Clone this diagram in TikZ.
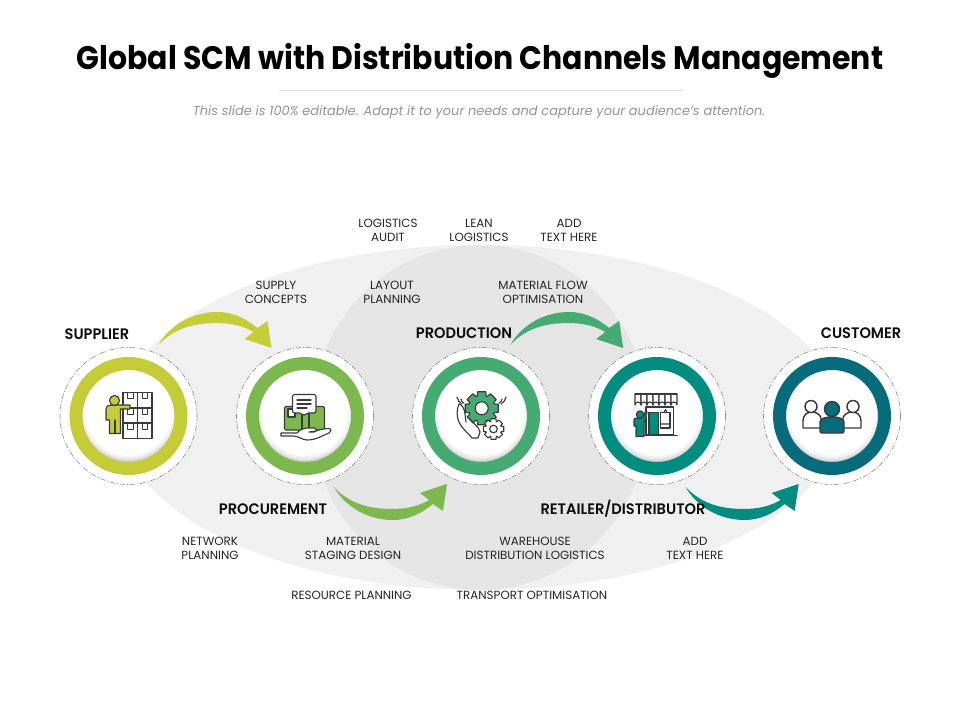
\documentclass[tikz,border=0pt]{standalone}
\usepackage{fontspec}
\setmainfont{Poppins}
\newfontfamily\ttl{Poppins}[FakeStretch=0.92]
\newfontfamily\lab{Poppins}
\newfontfamily\hd{Poppins SemiBold}[FakeStretch=0.96]
\definecolor{cA}{HTML}{C5CC38}
\definecolor{cB}{HTML}{7DB84E}
\definecolor{cC}{HTML}{45AB72}
\definecolor{cD}{HTML}{008C7E}
\definecolor{cE}{HTML}{066C7C}
\definecolor{ink}{HTML}{3A3A3A}
\tikzset{
  x=0.75pt,y=-0.75pt,
  small label/.style={font=\lab\fontsize{8.9pt}{10.5pt}\selectfont,align=center,text=black!85,inner sep=0,execute at begin node=\strut,execute at end node=\strut,yshift=-2pt},
  head label/.style={font=\hd\fontsize{11.4pt}{13pt}\selectfont,text=black!95,inner sep=0},
  base disc/.style={circle,minimum size=137*0.75pt,inner sep=0,fill=white,draw=black!45,line width=.45pt,dash pattern=on 4pt off 1.4pt on .8pt off 1.4pt},
  icon/.style={draw=ink,line width=.85pt,line join=round,line cap=round},
}
% ring, shadow
\newcommand{\ringat}[2]{%
  \begin{scope}[shift={(#1)}]
    \begin{scope}
      \clip (0,0) circle[radius=47];
      \fill[black!24] (0,0) circle[radius=47];
      \foreach \r/\g in {50/22,49.5/19,49/16,48.5/14,48/12,47.5/10,47/8,46.5/7,46/6,45.5/5,45/4,44.5/3,44/2,43.5/1,43/0}{
        \fill[white!\the\numexpr100-\g\relax!black] (0,-4) circle[radius=\r];
      }
    \end{scope}
    \draw[#2,line width=13*0.75pt] (0,0) circle[radius=52.5];
  \end{scope}}
\newcommand{\arrowshape}{(30,-71) .. controls (42,-92) and (65,-104) .. (89,-104) .. controls (105,-104) and (118,-97) .. (129,-88) -- (139,-95) -- (143,-68) -- (116,-77) -- (125,-84) .. controls (115,-90) and (103,-93) .. (88,-93) .. controls (62,-93) and (44,-86) .. cycle}
\newcommand{\gearshape}[2]{(-14:#1) \foreach \a in {0,45,...,315}{ -- (\a-14:#1) -- (\a+14:#1) -- (\a+20:#2) -- (\a+25:#2) } -- cycle}
\begin{document}
\begin{tikzpicture}
\useasboundingbox (0,0) rectangle (960,720);
\fill[white] (0,0) rectangle (960,720);
% background ellipses
\fill[black!6] (480,417.5) ellipse[x radius=360,y radius=172.5];
\fill[black!10] (480,417.5) ellipse[x radius=168,y radius=172.5];
% title
\node[inner sep=0,font=\ttl\bfseries\fontsize{24.4pt}{28pt}\selectfont] (title) at (480,60.5) {Global SCM with Distribution Channels Management};
\coordinate (ruleL) at (279,90);
\coordinate (ruleR) at (683,90);
\draw[black!15,line width=.6pt] (ruleL) -- (ruleR);
\node[inner sep=0,text=black!42,font=\fontsize{9.7pt}{11pt}\itshape\selectfont] (sub) at (479,112) {This slide is 100\% editable. Adapt it to your needs and capture your audience's attention.};
% discs
\node[base disc] (n1) at (128.5,416) {};
\node[base disc] (n2) at (305,416) {};
\node[base disc] (n3) at (481,416) {};
\node[base disc] (n4) at (657,416) {};
\node[base disc] (n5) at (832,416) {};
\ringat{n1}{cA}\ringat{n2}{cB}\ringat{n3}{cC}\ringat{n4}{cD}\ringat{n5}{cE}
% flow arrows
\fill[cA,shift={(n1)}] \arrowshape;
\fill[cC,shift={(n3)},xshift=-.6pt] \arrowshape;
\fill[cB,shift={(n1)},xshift=131.6pt,yscale=-1] \arrowshape;
\fill[cD,shift={(n3)},xshift=131pt,yscale=-1] \arrowshape;
% icon 1: shelves + person
\begin{scope}[shift={(n1)}]
  \draw[icon,fill=white] (-5.5,-23.5) rectangle (23.5,22.5);
  \draw[icon] (9,-23.5) -- (9,22.5) (-5.5,-8) -- (23.5,-8) (-5.5,7) -- (23.5,7);
  \foreach \x in {-1,13.5}\foreach \y in {-23.5,-8,7}{
    \draw[icon,line width=.6pt] (\x,\y) -- (\x,\y+6) -- (\x+5.5,\y+6) -- (\x+5.5,\y);
  }
  \draw[icon,fill=cA] (-22.5,-6) .. controls (-22.5,-10) and (-20,-11) .. (-17,-11) -- (-8,-11) -- (1.5,-11) -- (1.5,-7) -- (-8,-7) -- (-8,17.5) -- (-19,17.5) -- (-19,4) -- (-22.5,4) -- cycle;
  \draw[icon] (-13.5,4) -- (-13.5,17.5);
  \draw[icon,fill=cA] (-14,-15.5) circle[radius=5];
\end{scope}
% icon 2: parcel in hand
\begin{scope}[shift={(n2)}]
  \draw[icon,fill=cB,rounded corners=1pt] (-20.5,-9.5) rectangle (19.5,14);
  \draw[icon] (-3,-9.5) -- (-3,14) (4,-4) -- (4,14);
  \draw[icon,fill=white] (-17,-7) rectangle (-10,1);
  \draw[icon,fill=white,rounded corners=1.5pt] (-12.5,-21.5) -- (11,-21.5) -- (11,-3) -- (1.5,-3) -- (-1,0) -- (-3.5,-3) -- (-12.5,-3) -- cycle;
  \draw[icon,line width=1pt] (-8,-16) -- (6,-16) (-8,-12) -- (6,-12) (-8,-8) -- (2,-8);
  \draw[icon,fill=white] (-8,17) .. controls (-3,11) and (3,12) .. (9,12) .. controls (12,12) and (12,16) .. (9,16) -- (4,16) .. controls (10,16) and (18,12) .. (24,12.5) .. controls (27,13) and (26,16) .. (24,17) .. controls (18,19) and (12,24) .. (2,24) .. controls (-3,24) and (-6,20) .. (-12,20) -- (-24,20) -- (-24,17) -- cycle;
\end{scope}
% icon 3: gears and hand
\begin{scope}[shift={(n3)}]
  \begin{scope}[shift={(0.7,-7.7)}]
    \draw[icon,fill=cC] \gearshape{17}{13};
    \draw[icon,fill=white] (0,0) circle[radius=6.5];
  \end{scope}
  \begin{scope}[shift={(12.5,13)}]
    \draw[icon,fill=white] \gearshape{10.5}{8};
    \draw[icon] (0,0) circle[radius=3.8];
  \end{scope}
  \draw[icon] (-22,-12) .. controls (-25,-6) and (-24,2) .. (-22,6) .. controls (-18,14) and (-12,18) .. (-9,22) -- (-3,22) -- (-1,16) .. controls (-2,10) and (-8,8) .. (-12,2);
  \draw[icon] (-22,-12) .. controls (-19,-12) and (-16,-6) .. (-16,-2) -- (-15,6);
  \draw[icon] (-24,-19) arc[start angle=170,end angle=120,radius=10];
  \draw[icon] (-20,-17) arc[start angle=170,end angle=120,radius=6];
  \draw[icon] (25,-19) arc[start angle=10,end angle=60,radius=10];
  \draw[icon] (21,-17) arc[start angle=10,end angle=60,radius=6];
\end{scope}
% icon 4: shop
\begin{scope}[shift={(n4)}]
  \draw[icon,fill=white] (-11,-9) rectangle (16.5,19);
  \foreach \i in {0,...,6}{
    \draw[icon,fill=white] ({-22+6*\i},-22) -- ({-22+6*\i},-11) arc[start angle=180,end angle=360,radius=3] -- ({-16+6*\i},-22);
  }
  \draw[icon] (-22,-22) -- (20,-22);
  \draw[icon,fill=cD] (-8,-3.7) rectangle (1.3,19);
  \draw[icon,fill=white] (3.7,-3.7) rectangle (13,12);
  \draw[icon] (3.7,8) -- (13,8) (7,-3.7) -- (8.5,-6.5) -- (10,-3.7);
  \draw[icon,line width=1.4pt] (-12,19.5) -- (20,19.5);
  \draw[icon,fill=cD] (-23,4) .. controls (-23,2.5) and (-22,2) .. (-20,2) -- (-15,2) -- (-13,-1) -- (-11.5,-5) -- (-10,-4) -- (-11,2) -- (-13,7) -- (-13,20.5) -- (-21,20.5) -- (-21,10) -- (-23,10) -- cycle;
  \draw[icon,fill=cD] (-17,-1.5) circle[radius=3.7];
\end{scope}
% icon 5: people
\begin{scope}[shift={(n5)}]
  \draw[icon,fill=white,line width=1.1pt] (-29,12) -- (-29,5) .. controls (-29,-1) and (-25,-4) .. (-20,-4) .. controls (-15,-4) and (-12,-1) .. (-11,2) -- (-11,12) -- cycle;
  \draw[icon,fill=white,line width=1.1pt] (29,12) -- (29,5) .. controls (29,-1) and (25,-4) .. (20,-4) .. controls (15,-4) and (12,-1) .. (11,2) -- (11,12) -- cycle;
  \draw[icon,fill=white,line width=1.1pt] (-21,-9.5) circle[radius=6];
  \draw[icon,fill=white,line width=1.1pt] (21,-9.5) circle[radius=6];
  \draw[icon,fill=cE,line width=1.1pt,rounded corners=1.5pt] (-12,17) -- (-12,8) .. controls (-12,3) and (-6,1) .. (0,1) .. controls (6,1) and (12,3) .. (12,8) -- (12,17) -- cycle;
  \draw[icon,fill=cE,line width=1.1pt] (0,-7) circle[radius=7.5];
\end{scope}
% labels
\node[small label] (l1) at (388,230) {LOGISTICS\\AUDIT};
\node[small label] (l2) at (479,230) {LEAN\\LOGISTICS};
\node[small label] (l3) at (569,230) {ADD\\TEXT HERE};
\node[small label] (l4) at (276,292) {SUPPLY\\CONCEPTS};
\node[small label] (l5) at (392,292) {LAYOUT\\PLANNING};
\node[small label] (l6) at (543,292) {MATERIAL FLOW\\OPTIMISATION};
\node[small label] (l7) at (210,548) {NETWORK\\PLANNING};
\node[small label] (l8) at (353,548) {MATERIAL\\STAGING DESIGN};
\node[small label] (l9) at (535,548) {WAREHOUSE\\DISTRIBUTION LOGISTICS};
\node[small label] (l10) at (695,548) {ADD\\TEXT HERE};
\node[small label] (l11) at (351.5,594) {RESOURCE PLANNING};
\node[small label] (l12) at (532,594) {TRANSPORT OPTIMISATION};
\node[head label] (h1) at (97,334) {SUPPLIER};
\node[head label] (h2) at (273,509) {PROCUREMENT};
\node[head label] (h3) at (464,333) {PRODUCTION};
\node[head label] (h4) at (623,509) {RETAILER/DISTRIBUTOR};
\node[head label] (h5) at (861,333) {CUSTOMER};
\end{tikzpicture}
\end{document}
